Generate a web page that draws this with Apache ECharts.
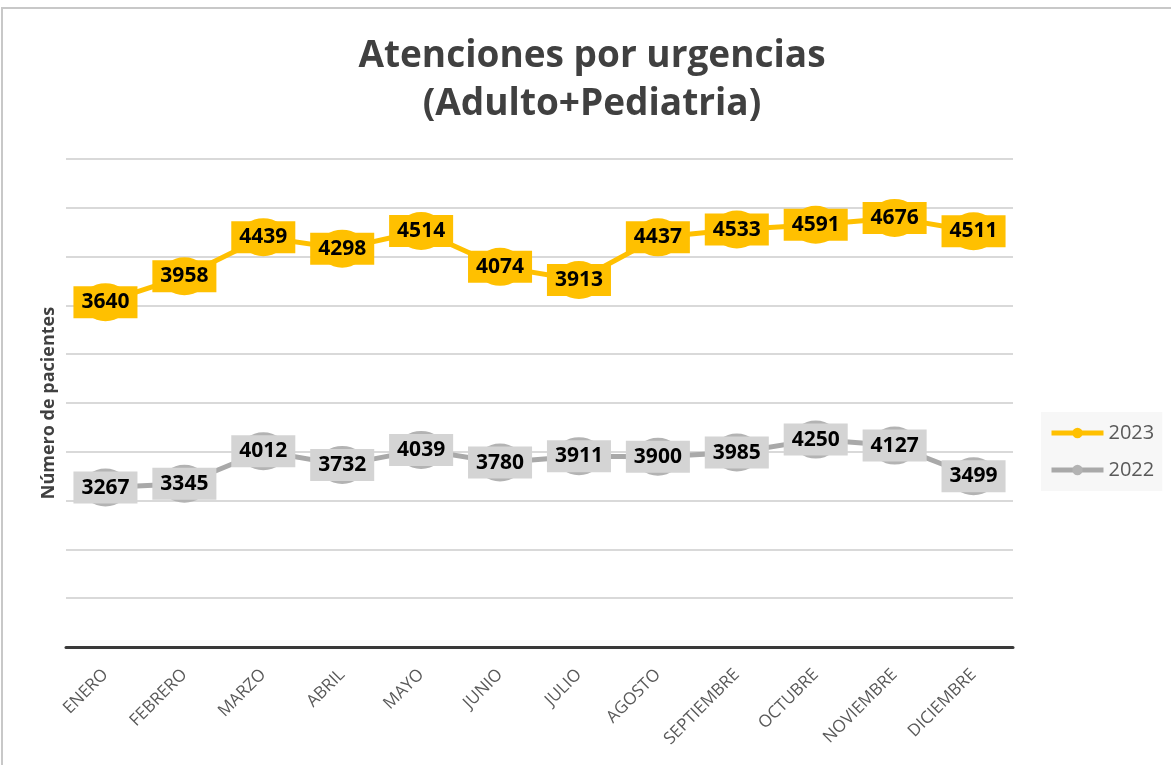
<!DOCTYPE html>
<html><head><meta charset="utf-8">
<script src="https://cdn.jsdelivr.net/npm/echarts@6/dist/echarts.min.js"></script>
<style>html,body{margin:0;padding:0;background:#fff}#c{width:1171px;height:765px}</style>
</head><body><div id="c"></div>
<script>
const months = ['ENERO','FEBRERO','MARZO','ABRIL','MAYO','JUNIO','JULIO','AGOSTO','SEPTIEMBRE','OCTUBRE','NOVIEMBRE','DICIEMBRE'];
const values2023 = [3640,3958,4439,4298,4514,4074,3913,4437,4533,4591,4676,4511];
const values2022 = [3267,3345,4012,3732,4039,3780,3911,3900,3985,4250,4127,3499];
const seriesNames = ['2023','2022'];
const titleText = 'Atenciones por urgencias\n(Adulto+Pediatria)';
const yAxisName = 'Número de pacientes';

const FONT = "'Open Sans', 'DejaVu Sans', sans-serif";
const chart = echarts.init(document.getElementById('c'), null, {renderer:'canvas'});
function labelCfg(bg){
  return {show:true, position:'inside', fontFamily:FONT, fontWeight:'bold', fontSize:21, color:'#000',
    backgroundColor:bg, padding:[4,8,3,8], lineHeight:25};
}
chart.setOption({
  animation:false,
  backgroundColor:'#fff',
  graphic:[
    {type:'rect', shape:{x:2, y:8, width:1200, height:800}, style:{fill:'none', stroke:'#c8c8c8', lineWidth:2}, silent:true}
  ],
  title:{text:titleText, left:587, top:27, textAlign:'center',
    textStyle:{fontFamily:FONT, fontWeight:'bold', fontSize:37, color:'#404040', lineHeight:48}},
  legend:{orient:'vertical', left:1041, top:412, padding:[11,8,11,8], backgroundColor:'#f7f7f7',
    itemWidth:52, itemHeight:13, itemGap:17, data:seriesNames,
    lineStyle:{width:5},
    textStyle:{fontFamily:FONT, fontSize:20, color:'#595959'}},
  grid:{left:66, right:158, top:159, bottom:118, containLabel:false},
  xAxis:{type:'category', data:months, boundaryGap:true,
    axisLine:{lineStyle:{color:'#3a3a3a', width:3}}, axisTick:{show:false},
    axisLabel:{rotate:45, margin:25, fontFamily:FONT, fontSize:17, color:'#595959'}},
  yAxis:[
    {type:'value', min:0, max:10000, interval:1000, position:'left',
      name:yAxisName, nameLocation:'middle', nameGap:8, nameRotate:90,
      nameTextStyle:{fontFamily:FONT, fontWeight:'bold', fontSize:18, color:'#404040'},
      axisLabel:{show:false}, axisLine:{show:false}, axisTick:{show:false},
      splitLine:{show:true, lineStyle:{color:'#d9d9d9', width:2}}},
    {type:'value', min:-600, max:5400, interval:600, position:'left', show:false,
      splitLine:{show:false}}
  ],
  series:[
    {name:seriesNames[0], type:'line', yAxisIndex:1, data:values2023,
      symbol:'circle', symbolSize:[46,38],
      lineStyle:{color:'#FFC000', width:5}, itemStyle:{color:'#FFC000'},
      label:labelCfg('#FFC000'), z:3},
    {name:seriesNames[1], type:'line', yAxisIndex:0, data:values2022,
      symbol:'circle', symbolSize:[46,38],
      lineStyle:{color:'#a9a9a9', width:5}, itemStyle:{color:'#b3b3b3'},
      label:labelCfg('#d4d4d4'), z:2}
  ]
});
</script></body></html>
